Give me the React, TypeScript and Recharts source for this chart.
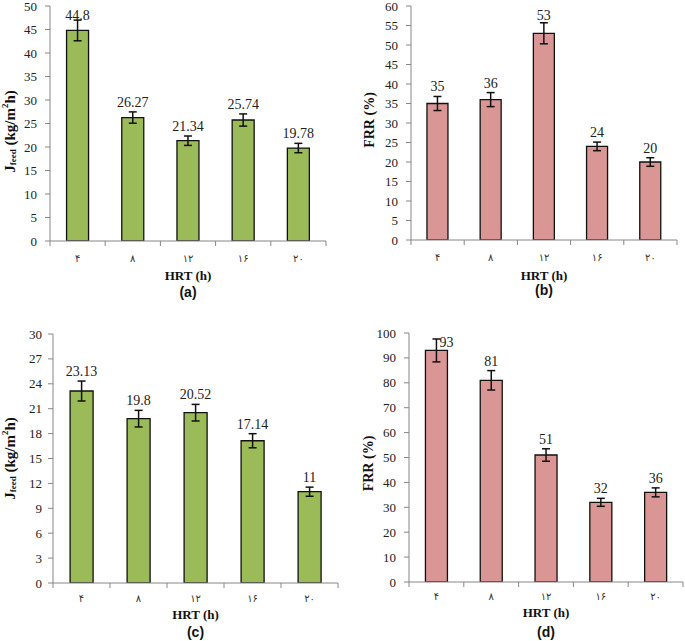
import React from 'react';
import { BarChart, Bar, XAxis, YAxis, ErrorBar, LabelList, Label } from 'recharts';

// ---------- data ----------
const hrtLabels = ['۴', '۸', '۱۲', '۱۶', '۲۰'];

const fluxA = [44.8, 26.27, 21.34, 25.74, 19.78];
const fluxAErr = [2.2, 1.2, 1.0, 1.3, 1.0];
const ticksA = [0, 5, 10, 15, 20, 25, 30, 35, 40, 45, 50];

const frrB = [35, 36, 53, 24, 20];
const frrBErr = [1.8, 1.8, 2.7, 1.1, 1.1];
const ticksB = [0, 5, 10, 15, 20, 25, 30, 35, 40, 45, 50, 55, 60];

const fluxC = [23.13, 19.8, 20.52, 17.14, 11];
const fluxCErr = [1.2, 1.0, 1.0, 0.85, 0.55];
const ticksC = [0, 3, 6, 9, 12, 15, 18, 21, 24, 27, 30];

const frrD = [93, 81, 51, 32, 36];
const frrDErr = [4.6, 3.9, 2.5, 1.6, 1.8];
const ticksD = [0, 10, 20, 30, 40, 50, 60, 70, 80, 90, 100];

// ---------- styles ----------
const GREEN = '#9BBB59';
const RED = '#D99694';
const AXIS_GRAY = '#868686';
const FRAME = '#3a3a3a';
const SERIF = 'Liberation Serif';
const SANS = 'Liberation Sans';
const PERSIAN = 'DejaVu Sans';

type PanelCfg = {
  left: number;
  top: number;
  width: number;
  height: number;
  values: number[];
  errors: number[];
  ticks: number[];
  color: string;
  titleKind: 'J' | 'FRR';
  tag: string;
  margin: { top: number; right: number; left: number; bottom: number };
  yAxisWidth: number;
  xAxisHeight: number;
  tickGap: number;
  tickBase: number;
  hrtBase: number;
  tagBase: number;
  titleX: number;
  titleShift: number;
};

const XTick = (props: any) => {
  const { x, y, payload, index, count, tickBase } = props;
  const off = payload && typeof payload.offset === 'number' ? payload.offset : 0;
  const cx = Number(x);
  const ay = Number(y);
  return (
    <g>
      <line x1={cx - off} x2={cx - off} y1={ay} y2={ay + 5} stroke={AXIS_GRAY} strokeWidth={1} />
      {index === count - 1 ? (
        <line x1={cx + off} x2={cx + off} y1={ay} y2={ay + 5} stroke={AXIS_GRAY} strokeWidth={1} />
      ) : null}
      <text x={cx} y={ay + tickBase} textAnchor="middle" fontFamily={PERSIAN} fontSize={10} fill="#333">
        {payload.value}
      </text>
    </g>
  );
};

const YTick = (props: any) => {
  const { x, y, payload } = props;
  return (
    <text x={Number(x)} y={Number(y)} dy={4.5} textAnchor="end" fontFamily={SERIF} fontSize={13} fill="#222">
      {payload.value}
    </text>
  );
};

const makeValueLabel = (values: number[], errs: number[], plotTop: number) => (p: any) => {
  const vb = p.viewBox || {};
  const x = Number(p.x ?? vb.x);
  const y = Number(p.y ?? vb.y);
  const w = Number(p.width ?? vb.width);
  const h = Number(p.height ?? vb.height);
  const idx = Number(p.index);
  const val = values[idx];
  const perUnit = h / val;
  const errTop = y - errs[idx] * perUnit;
  let base = errTop - 5;
  let tx = x + w / 2;
  let anchor: 'middle' | 'start' = 'middle';
  const minBase = plotTop + 14;
  if (base < minBase) {
    base = minBase;
    if (base > errTop + 3) {
      tx += 3;
      anchor = 'start';
    }
  }
  return (
    <text x={tx} y={base} textAnchor={anchor} fontFamily={SERIF} fontSize={14} fill="#222">
      {String(val)}
    </text>
  );
};

const YTitle = (props: any) => {
  const { viewBox, kind, titleX, shift } = props;
  const cx = Number(viewBox.x) + titleX;
  const cy = Number(viewBox.y) + Number(viewBox.height) / 2 + shift;
  if (kind === 'J') {
    return (
      <text
        transform={`translate(${cx},${cy}) rotate(-90)`}
        textAnchor="middle"
        dominantBaseline="central"
        fontFamily={SERIF}
        fontWeight="bold"
        fontSize={15}
        fill="#111"
      >
        J
        <tspan fontSize={9} dy={3}>feed</tspan>
        <tspan dy={-3}> (kg/m</tspan>
        <tspan fontSize={9} dy={-5}>2</tspan>
        <tspan dy={5}>h)</tspan>
      </text>
    );
  }
  return (
    <text
      transform={`translate(${cx},${cy}) rotate(-90)`}
      textAnchor="middle"
      dominantBaseline="central"
      fontFamily={SERIF}
      fontWeight="bold"
      fontSize={14}
      fill="#111"
    >
      FRR (%)
    </text>
  );
};

const Panel = ({ cfg }: { cfg: PanelCfg }) => {
  const data = hrtLabels.map((h, i) => ({ hrt: h, v: cfg.values[i], e: cfg.errors[i] }));
  const yMax = cfg.ticks[cfg.ticks.length - 1];
  return (
    <div style={{ position: 'absolute', left: cfg.left, top: cfg.top, width: cfg.width, height: cfg.height }}>
      <BarChart width={cfg.width} height={cfg.height} data={data} margin={cfg.margin} barCategoryGap="30%">
        <XAxis
          dataKey="hrt"
          interval={0}
          height={cfg.xAxisHeight}
          tickLine={false}
          tickSize={0}
          tickMargin={0}
          axisLine={{ stroke: AXIS_GRAY, strokeWidth: 1 }}
          tick={<XTick count={hrtLabels.length} tickBase={cfg.tickBase} />}
        />
        <XAxis
          xAxisId="frameTop"
          dataKey="hrt"
          orientation="top"
          height={0}
          tick={false}
          tickLine={false}
          axisLine={{ stroke: FRAME, strokeWidth: 1.6 }}
        />
        <YAxis
          domain={[0, yMax]}
          ticks={cfg.ticks}
          interval={0}
          width={cfg.yAxisWidth}
          tickSize={5}
          tickMargin={cfg.tickGap}
          tickLine={{ stroke: AXIS_GRAY }}
          axisLine={{ stroke: AXIS_GRAY, strokeWidth: 1 }}
          tick={<YTick />}
          allowDataOverflow
        >
          <Label content={<YTitle kind={cfg.titleKind} titleX={cfg.titleX} shift={cfg.titleShift} />} />
        </YAxis>
        <YAxis
          yAxisId="frameRight"
          orientation="right"
          width={0}
          domain={[0, yMax]}
          tick={false}
          tickLine={false}
          axisLine={{ stroke: FRAME, strokeWidth: 1.6 }}
        />
        <Bar dataKey="v" fill={cfg.color} stroke="#111" strokeWidth={1.3} isAnimationActive={false}>
          <ErrorBar dataKey="e" width={4} stroke="#111" strokeWidth={1.5} direction="y" />
          <LabelList dataKey="v" content={makeValueLabel(cfg.values, cfg.errors, cfg.margin.top)} />
        </Bar>
      </BarChart>
    </div>
  );
};

const panels: PanelCfg[] = [
  {
    left: 0, top: 0, width: 340, height: 320,
    values: fluxA, errors: fluxAErr, ticks: ticksA, color: GREEN, titleKind: 'J', tag: '(a)',
    margin: { top: 6, right: 14, left: 0, bottom: 0 },
    yAxisWidth: 50, xAxisHeight: 79, tickGap: 8,
    tickBase: 21, hrtBase: 39, tagBase: 56, titleX: 10, titleShift: 8,
  },
  {
    left: 340, top: 0, width: 345, height: 320,
    values: frrB, errors: frrBErr, ticks: ticksB, color: RED, titleKind: 'FRR', tag: '(b)',
    margin: { top: 6, right: 8, left: 0, bottom: 0 },
    yAxisWidth: 71, xAxisHeight: 80, tickGap: 8,
    tickBase: 21, hrtBase: 39.5, tagBase: 55, titleX: 29, titleShift: -3,
  },
  {
    left: 0, top: 320, width: 340, height: 321,
    values: fluxC, errors: fluxCErr, ticks: ticksC, color: GREEN, titleKind: 'J', tag: '(c)',
    margin: { top: 14, right: 2, left: 0, bottom: 0 },
    yAxisWidth: 53, xAxisHeight: 58, tickGap: 6,
    tickBase: 19, hrtBase: 36, tagBase: 54, titleX: 10, titleShift: 0,
  },
  {
    left: 340, top: 320, width: 345, height: 321,
    values: frrD, errors: frrDErr, ticks: ticksD, color: RED, titleKind: 'FRR', tag: '(d)',
    margin: { top: 13, right: 2, left: 0, bottom: 0 },
    yAxisWidth: 69, xAxisHeight: 59, tickGap: 8,
    tickBase: 18, hrtBase: 34.5, tagBase: 55, titleX: 28, titleShift: 6,
  },
];

// Overlay with the x-axis titles and panel tags, laid on top of all panels.
const TitleOverlay = () => (
  <svg
    width={685}
    height={641}
    style={{ position: 'absolute', left: 0, top: 0, pointerEvents: 'none', zIndex: 10 }}
  >
    {panels.map((cfg) => {
      const plotLeft = cfg.left + cfg.margin.left + cfg.yAxisWidth;
      const plotRight = cfg.left + cfg.width - cfg.margin.right;
      const plotBottom = cfg.top + cfg.height - cfg.xAxisHeight;
      const mid = (plotLeft + plotRight) / 2;
      return (
        <g key={cfg.tag}>
          <text
            x={mid}
            y={plotBottom + cfg.hrtBase}
            textAnchor="middle"
            fontFamily={SERIF}
            fontWeight="bold"
            fontSize={13}
            fill="#111"
          >
            {'HRT (h)'}
          </text>
          <text
            x={mid}
            y={plotBottom + cfg.tagBase}
            textAnchor="middle"
            fontFamily={SANS}
            fontWeight="bold"
            fontSize={14}
            fill="#111"
          >
            {cfg.tag}
          </text>
        </g>
      );
    })}
  </svg>
);

export default function App() {
  return (
    <div style={{ position: 'absolute', left: 0, top: 0, width: 685, height: 641, background: '#fff' }}>
      {panels.map((p) => (
        <Panel key={p.tag} cfg={p} />
      ))}
      <TitleOverlay />
    </div>
  );
}
